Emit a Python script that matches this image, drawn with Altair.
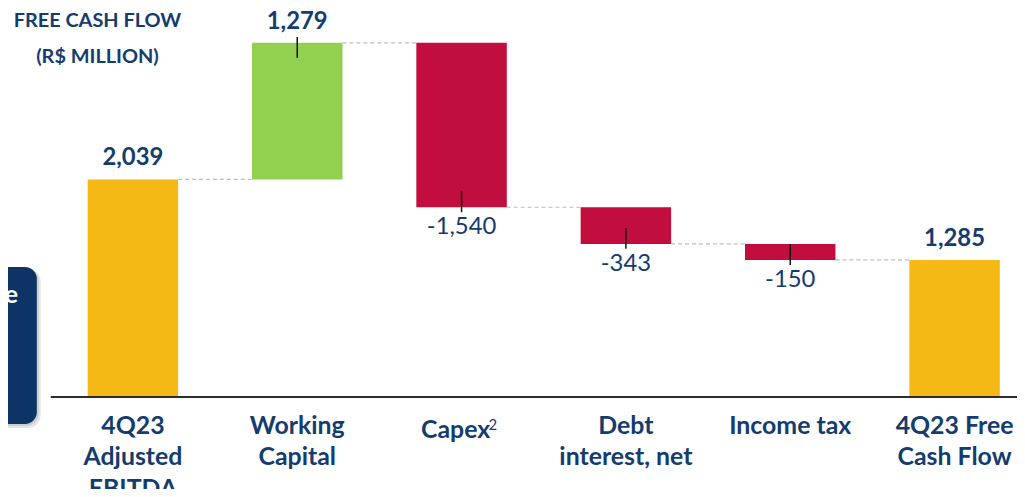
import altair as alt
import pandas as pd

# ---- data ----
categories = ["4Q23 Adjusted EBITDA", "Working Capital", "Capex", "Debt interest, net", "Income tax", "4Q23 Free Cash Flow"]
axis_labels = ["4Q23\nAdjusted\nEBITDA", "Working\nCapital", "Capex", "Debt\ninterest, net", "Income tax", "4Q23 Free\nCash Flow"]
values = [2039, 1279, -1540, -343, -150, 1285]
kinds = ["total", "delta", "delta", "delta", "delta", "total"]
value_labels = ["2,039", "1,279", "-1,540", "-343", "-150", "1,285"]
title_lines = ["FREE CASH FLOW", "(R$ MILLION)"]

NAVY = "#143C6E"
W, H = 972, 390
X_MAX = 5.88
BAR_W = 91

rows = []
running = 0
for i, (c, v, k, al, vl) in enumerate(zip(categories, values, kinds, axis_labels, value_labels)):
    if k == "total":
        start, end = 0, v
        running = v
    else:
        start, end = running, running + v
        running = end
    color = "#F4B915" if k == "total" else ("#92D050" if v > 0 else "#C20E3E")
    rows.append(dict(cat=c, pos=i + 0.5, start=start, end=end, top=max(start, end),
                     bottom=min(start, end), value=v, kind=k, color=color,
                     axis_label=al, value_label=vl, z=0))
df = pd.DataFrame(rows)

conn = pd.DataFrame([dict(pos=df.pos[i], pos2=df.pos[i + 1], level=df.end[i]) for i in range(len(df) - 1)])

xs = alt.Scale(domain=[0, X_MAX], padding=0, nice=False, zero=False)
ys = alt.Scale(domain=[0, 3631], nice=False)

def X(f="pos:Q"):
    return alt.X(f, scale=xs, axis=None)

def Y(f):
    return alt.Y(f, scale=ys, axis=None)

base = alt.Chart(df)

bars = base.mark_bar(size=BAR_W).encode(
    x=X(), y=Y("start:Q"), y2="end:Q", color=alt.Color("color:N", scale=None)
)

connectors = alt.Chart(conn).mark_rule(
    color="#BDBDBD", strokeDash=[4, 3], strokeWidth=1.2, xOffset=BAR_W / 2, x2Offset=-BAR_W / 2
).encode(x=X(), x2="pos2:Q", y=Y("level:Q"))

baseline = alt.Chart(pd.DataFrame({"z": [0]})).mark_rule(color="#2B2B2B", strokeWidth=2).encode(
    y=Y("z:Q"), x=alt.value(0), x2=alt.value(W)
)

pos_labels = base.transform_filter("datum.value > 0").mark_text(
    font="Lato", fontWeight="bold", fontSize=24, color=NAVY, dy=-21, baseline="middle"
).encode(x=X(), y=Y("top:Q"), text="value_label:N")

neg_labels = base.transform_filter("datum.value < 0").mark_text(
    font="Lato", fontSize=24, color=NAVY, dy=20, baseline="middle"
).encode(x=X(), y=Y("bottom:Q"), text="value_label:N")

lead_pos = base.transform_filter("datum.kind == 'delta' && datum.value > 0").mark_rule(
    color="#111111", strokeWidth=1.5, yOffset=-6, y2Offset=15
).encode(x=X(), y=Y("top:Q"), y2="top:Q")

lead_neg = base.transform_filter("datum.kind == 'delta' && datum.value < 0").mark_rule(
    color="#111111", strokeWidth=1.5, yOffset=-16, y2Offset=5
).encode(x=X(), y=Y("bottom:Q"), y2="bottom:Q")

cat_labels = base.transform_filter("datum.cat != 'Capex'").mark_text(
    font="Lato", fontWeight="bold", fontSize=25, color=NAVY, baseline="top",
    lineBreak="\n", lineHeight=31.5, dy=17
).encode(x=X(), y=Y("z:Q"), text="axis_label:N")

capex_label = base.transform_filter("datum.cat == 'Capex'").mark_text(
    font="Lato", fontWeight="bold", fontSize=25, color=NAVY, baseline="top", dy=21, dx=-6
).encode(x=X(), y=Y("z:Q"), text="axis_label:N")

capex_sup = base.transform_filter("datum.cat == 'Capex'").mark_text(
    font="Lato", fontSize=15, color=NAVY, baseline="top", align="left", dy=21, dx=27
).encode(x=X(), y=Y("z:Q"), text=alt.value("2"))

t_df = pd.DataFrame({"k": [0]})
title1 = alt.Chart(t_df).mark_text(
    font="Lato", fontWeight="bold", fontSize=20, color=NAVY, baseline="middle"
).encode(x=alt.value(47), y=alt.value(12), text=alt.value(title_lines[0]))
title2 = alt.Chart(t_df).mark_text(
    font="Lato", fontWeight="bold", fontSize=20, color=NAVY, baseline="middle"
).encode(x=alt.value(47), y=alt.value(48), text=alt.value(title_lines[1]))

# callout box at the left edge (partly outside the picture)
box_df = pd.DataFrame({"k": [0]})
shadow1 = alt.Chart(box_df).mark_rect(cornerRadius=13, color="#000000", opacity=0.10).encode(
    x=alt.value(-60), x2=alt.value(-10), y=alt.value(261), y2=alt.value(421))
shadow2 = alt.Chart(box_df).mark_rect(cornerRadius=13, color="#000000", opacity=0.10).encode(
    x=alt.value(-60), x2=alt.value(-12), y=alt.value(260), y2=alt.value(419))
box = alt.Chart(box_df).mark_rect(cornerRadius=12, color="#0C3566").encode(
    x=alt.value(-60), x2=alt.value(-14), y=alt.value(259), y2=alt.value(417))
box_text = alt.Chart(box_df).mark_text(font="Lato", fontWeight="bold", fontSize=25, color="white",
                                       align="right", baseline="middle").encode(
    x=alt.value(-33), y=alt.value(287), text=alt.value("e"))

chart = alt.layer(
    shadow1, shadow2, box, box_text,
    connectors, bars, baseline, lead_pos, lead_neg, pos_labels, neg_labels,
    cat_labels, capex_label, capex_sup, title1, title2
).properties(
    width=W, height=H,
    autosize=alt.AutoSizeParams(type="none"),
    padding={"left": 43, "top": 0, "right": 0, "bottom": 91},
).configure_view(stroke=None)

chart.save("out.html", embed_options={"renderer": "svg", "actions": False})
